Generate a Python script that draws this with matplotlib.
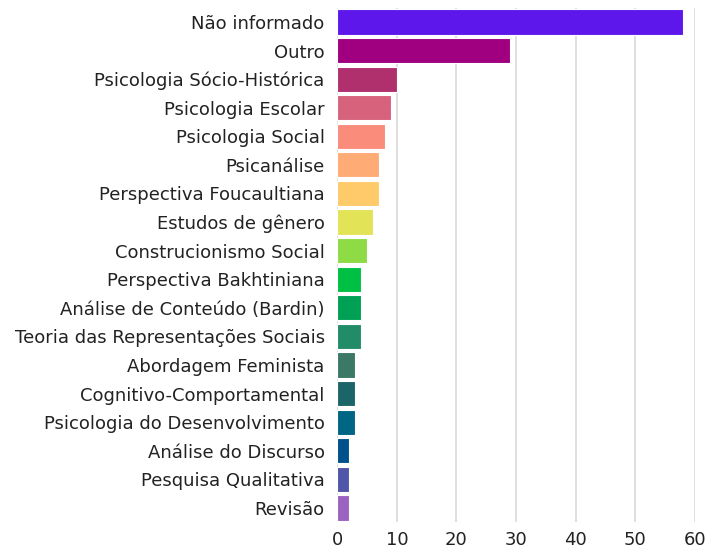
import matplotlib
matplotlib.use("Agg")
import matplotlib.pyplot as plt

categories = [
    "Não informado", "Outro", "Psicologia Sócio-Histórica", "Psicologia Escolar",
    "Psicologia Social", "Psicanálise", "Perspectiva Foucaultiana", "Estudos de gênero",
    "Construcionismo Social", "Perspectiva Bakhtiniana", "Análise de Conteúdo (Bardin)",
    "Teoria das Representações Sociais", "Abordagem Feminista", "Cognitivo-Comportamental",
    "Psicologia do Desenvolvimento", "Análise do Discurso", "Pesquisa Qualitativa", "Revisão",
]
values = [58, 29, 10, 9, 8, 7, 7, 6, 5, 4, 4, 4, 3, 3, 3, 2, 2, 2]
colors = [
    "#5E17EB", "#A0007F", "#B0306E", "#D6637B", "#FA8C7C", "#FFAB76", "#FFCA6A",
    "#E3E357", "#8EDB45", "#00C043", "#00A055", "#228B68", "#3B7866", "#1B6468",
    "#006684", "#00508C", "#4F55A8", "#9C62C0",
]
xticks = [0, 10, 20, 30, 40, 50, 60]

plt.rcParams['font.family'] = ['DejaVu Sans']

fig = plt.figure(figsize=(7.07, 5.48), dpi=100)
ax = fig.add_axes([0.477, 0.047, 0.506, 0.939])

y = list(range(len(categories)))
ax.barh(y, values, height=0.88, color=colors, edgecolor="white", linewidth=0.8, zorder=3)
ax.set_ylim(len(categories) - 0.5, -0.5)
ax.set_xlim(0, 60)
ax.set_yticks(y)
ax.set_yticklabels(categories, fontsize=13, color="#222222")
ax.set_xticks(xticks)
ax.set_xticklabels([str(t) for t in xticks], fontsize=13, color="#222222")
ax.tick_params(axis="x", length=0, pad=6)
ax.tick_params(axis="y", length=0, pad=9)
ax.grid(axis="x", color="#d9d9d9", linewidth=1.2, zorder=0)
for s in ax.spines.values():
    s.set_visible(False)

fig.savefig("out.png", dpi=100)
